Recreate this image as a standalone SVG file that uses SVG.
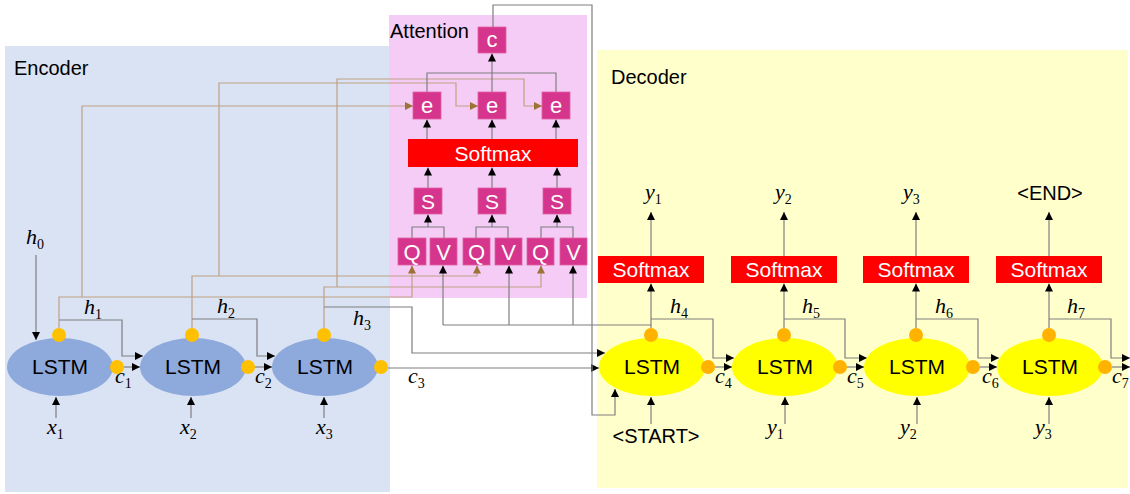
<svg xmlns="http://www.w3.org/2000/svg" width="1130" height="494" viewBox="0 0 1130 494">
<style>
.t{font-family:"Liberation Sans",Arial,sans-serif;fill:#000}
.w{font-family:"Liberation Sans",Arial,sans-serif;fill:#fff;text-anchor:middle}
.m{font-family:"Liberation Serif","Times New Roman",serif;font-style:italic;font-size:22px;fill:#000}
.s{font-style:normal;font-size:14px}
.g{fill:none;stroke:#7F7F7F;stroke-width:1.2}
.b{fill:none;stroke:#BEA183;stroke-width:1.2}
.ga{fill:none;stroke:#7F7F7F;stroke-width:1.2;marker-end:url(#ab)}
.ba{fill:none;stroke:#BEA183;stroke-width:1.2;marker-end:url(#ar)}
.box{fill:#D5358C;stroke:#E060A0;stroke-width:0.8}
.red{fill:#FF0000}
.el{fill:#8EA9DB}
.dl{fill:#FFFF00}
.oc{fill:#FFC000}
.od{fill:#FFB300}
</style>
<defs>
<marker id="ab" viewBox="0 0 10 10" refX="10" refY="5" markerWidth="8" markerHeight="8" markerUnits="userSpaceOnUse" orient="auto"><path d="M0,0 L10,5 L0,10 z" fill="#000"/></marker>
<marker id="ar" viewBox="0 0 10 10" refX="10" refY="5" markerWidth="8" markerHeight="8" markerUnits="userSpaceOnUse" orient="auto"><path d="M0,0 L10,5 L0,10 z" fill="#9E7138"/></marker>
</defs>

<g id="backgrounds">
<rect x="5" y="46" width="385" height="446" fill="#DAE3F3"/>
<rect x="389" y="15" width="198" height="283" fill="#F4CCF5"/>
<rect x="597" y="50" width="531" height="438" fill="#FFFFCC"/>
<text class="t" x="14" y="75" font-size="20">Encoder</text>
<text class="t" x="390" y="38" font-size="20">Attention</text>
<text class="t" x="611" y="84" font-size="20">Decoder</text>
</g>

<g id="connectors">
<path class="ba" d="M59,328 V297 H412 V265.5"/>
<path class="ba" d="M82,297 V106 H413"/>
<path class="ba" d="M192,328 V276 H477 V265.5"/>
<path class="ba" d="M219,276 V83 H456 V106 H478"/>
<path class="ba" d="M324,328 V287 H541 V265.5"/>
<path class="ba" d="M337,287 V79 H524 V106 H542"/>
<path class="ga" d="M36,255 V340"/>
<path class="ga" d="M59,320 H122 V356 H143"/>
<path class="ga" d="M124,367 H140"/>
<path class="ga" d="M192,319 H257 V356 H275"/>
<path class="ga" d="M255,367 H272"/>
<path class="ga" d="M324,307 H412 V353 H605"/>
<path class="ga" d="M388,368 H599"/>
<path class="ga" d="M56,418 V397"/>
<path class="ga" d="M191,418 V397"/>
<path class="ga" d="M324,418 V397"/>
<path class="g" d="M427,92 V73 H556 V92"/>
<path class="ga" d="M492,92 V53.5"/>
<path class="ga" d="M427,139 V119.5"/>
<path class="ga" d="M492,139 V119.5"/>
<path class="ga" d="M556,139 V119.5"/>
<path class="ga" d="M428,188 V167.5"/>
<path class="ga" d="M492,188 V167.5"/>
<path class="ga" d="M557,188 V167.5"/>
<path class="g" d="M412,238 V227 H444 V238"/>
<path class="ga" d="M428,227 V214.5"/>
<path class="g" d="M476,238 V227 H508 V238"/>
<path class="ga" d="M492,227 V214.5"/>
<path class="g" d="M541,238 V227 H573 V238"/>
<path class="ga" d="M557,227 V214.5"/>
<path class="ga" d="M443,325 V265.5"/>
<path class="ga" d="M509,325 V265.5"/>
<path class="ga" d="M573,325 V265.5"/>
<path class="g" d="M443,325 H651"/>
<path class="ga" d="M493,27 V5 H592 V415 H615 V389"/>
<path class="ga" d="M651,328 V283.5"/>
<path class="ga" d="M651,256 V212"/>
<path class="ga" d="M651,319 H713 V358 H734"/>
<path class="ga" d="M715,367 H732"/>
<path class="ga" d="M784,328 V283.5"/>
<path class="ga" d="M784,256 V212"/>
<path class="ga" d="M784,319 H845 V358 H867"/>
<path class="ga" d="M847,367 H864"/>
<path class="ga" d="M916,328 V283.5"/>
<path class="ga" d="M916,256 V212"/>
<path class="ga" d="M916,319 H978 V358 H999"/>
<path class="ga" d="M980,367 H997"/>
<path class="ga" d="M1049,328 V283.5"/>
<path class="ga" d="M1049,256 V212"/>
<path class="ga" d="M1049,319 H1111 V358 H1130"/>
<path class="ga" d="M1112,367 H1130"/>
<path class="ga" d="M651,424 V397"/>
<path class="ga" d="M785,424 V397"/>
<path class="ga" d="M917,424 V397"/>
<path class="ga" d="M1049,424 V397"/>
</g>

<g id="enc1"><ellipse class="el" cx="60" cy="367" rx="53" ry="29"/><text class="t" x="60" y="374" font-size="21" text-anchor="middle">LSTM</text><circle class="oc" cx="59" cy="335" r="7"/><circle class="oc" cx="117" cy="367" r="7"/></g>
<g id="enc2"><ellipse class="el" cx="193" cy="367" rx="53" ry="29"/><text class="t" x="193" y="374" font-size="21" text-anchor="middle">LSTM</text><circle class="oc" cx="192" cy="335" r="7"/><circle class="oc" cx="248" cy="367" r="7"/></g>
<g id="enc3"><ellipse class="el" cx="325" cy="367" rx="53" ry="29"/><text class="t" x="325" y="374" font-size="21" text-anchor="middle">LSTM</text><circle class="oc" cx="324" cy="335" r="7"/><circle class="oc" cx="381" cy="367" r="7"/></g>

<g id="dec1"><ellipse class="dl" cx="652" cy="367" rx="53" ry="29"/><text class="t" x="652" y="374" font-size="21" text-anchor="middle">LSTM</text><circle class="od" cx="651" cy="335" r="7"/><circle class="od" cx="708" cy="367" r="7"/></g>
<g id="dec2"><ellipse class="dl" cx="785" cy="367" rx="53" ry="29"/><text class="t" x="785" y="374" font-size="21" text-anchor="middle">LSTM</text><circle class="od" cx="784" cy="335" r="7"/><circle class="od" cx="840" cy="367" r="7"/></g>
<g id="dec3"><ellipse class="dl" cx="917" cy="367" rx="53" ry="29"/><text class="t" x="917" y="374" font-size="21" text-anchor="middle">LSTM</text><circle class="od" cx="916" cy="335" r="7"/><circle class="od" cx="973" cy="367" r="7"/></g>
<g id="dec4"><ellipse class="dl" cx="1050" cy="367" rx="53" ry="29"/><text class="t" x="1050" y="374" font-size="21" text-anchor="middle">LSTM</text><circle class="od" cx="1049" cy="335" r="7"/><circle class="od" cx="1105" cy="367" r="7"/></g>

<g id="dsm1"><rect class="red" x="598" y="256" width="106" height="27"/><text class="w" x="651" y="277" font-size="21">Softmax</text></g>
<g id="dsm2"><rect class="red" x="731" y="256" width="106" height="27"/><text class="w" x="784" y="277" font-size="21">Softmax</text></g>
<g id="dsm3"><rect class="red" x="863" y="256" width="106" height="27"/><text class="w" x="916" y="277" font-size="21">Softmax</text></g>
<g id="dsm4"><rect class="red" x="996" y="256" width="106" height="27"/><text class="w" x="1049" y="277" font-size="21">Softmax</text></g>

<g id="att-c"><rect class="box" x="478" y="27" width="28" height="26"/><text class="w" x="492" y="47" font-size="22">c</text></g>
<g id="att-e1"><rect class="box" x="413" y="92" width="28" height="27"/><text class="w" x="427" y="113" font-size="22">e</text></g>
<g id="att-e2"><rect class="box" x="478" y="92" width="28" height="27"/><text class="w" x="492" y="113" font-size="22">e</text></g>
<g id="att-e3"><rect class="box" x="542" y="92" width="28" height="27"/><text class="w" x="556" y="113" font-size="22">e</text></g>
<g id="att-softmax"><rect class="red" x="408" y="139" width="170" height="28"/><text class="w" x="493" y="161" font-size="21">Softmax</text></g>
<g id="att-s1"><rect class="box" x="414" y="188" width="28" height="26"/><text class="w" x="428" y="209" font-size="21">S</text></g>
<g id="att-s2"><rect class="box" x="478" y="188" width="28" height="26"/><text class="w" x="492" y="209" font-size="21">S</text></g>
<g id="att-s3"><rect class="box" x="543" y="188" width="28" height="26"/><text class="w" x="557" y="209" font-size="21">S</text></g>
<g id="att-q1"><rect class="box" x="398" y="238" width="28" height="27"/><text class="w" x="412" y="259.5" font-size="22">Q</text></g>
<g id="att-v1"><rect class="box" x="430" y="238" width="27" height="27"/><text class="w" x="443.5" y="259.5" font-size="22">V</text></g>
<g id="att-q2"><rect class="box" x="463" y="238" width="27" height="27"/><text class="w" x="476.5" y="259.5" font-size="22">Q</text></g>
<g id="att-v2"><rect class="box" x="495" y="238" width="27" height="27"/><text class="w" x="508.5" y="259.5" font-size="22">V</text></g>
<g id="att-q3"><rect class="box" x="527" y="238" width="27" height="27"/><text class="w" x="540.5" y="259.5" font-size="22">Q</text></g>
<g id="att-v3"><rect class="box" x="560" y="238" width="27" height="27"/><text class="w" x="573.5" y="259.5" font-size="22">V</text></g>

<g id="labels">
<text class="m" x="26" y="244">h<tspan class="s" dy="5">0</tspan></text>
<text class="m" x="84" y="314">h<tspan class="s" dy="5">1</tspan></text>
<text class="m" x="217" y="313">h<tspan class="s" dy="5">2</tspan></text>
<text class="m" x="353" y="325">h<tspan class="s" dy="5">3</tspan></text>
<text class="m" x="670" y="313">h<tspan class="s" dy="5">4</tspan></text>
<text class="m" x="802" y="313">h<tspan class="s" dy="5">5</tspan></text>
<text class="m" x="935" y="313">h<tspan class="s" dy="5">6</tspan></text>
<text class="m" x="1067" y="313">h<tspan class="s" dy="5">7</tspan></text>
<text class="m" x="115" y="383">c<tspan class="s" dy="5">1</tspan></text>
<text class="m" x="255" y="383">c<tspan class="s" dy="5">2</tspan></text>
<text class="m" x="408" y="383">c<tspan class="s" dy="5">3</tspan></text>
<text class="m" x="715" y="383">c<tspan class="s" dy="5">4</tspan></text>
<text class="m" x="847" y="383">c<tspan class="s" dy="5">5</tspan></text>
<text class="m" x="982" y="383">c<tspan class="s" dy="5">6</tspan></text>
<text class="m" x="1112" y="383">c<tspan class="s" dy="5">7</tspan></text>
<text class="m" x="47" y="434">x<tspan class="s" dy="5">1</tspan></text>
<text class="m" x="180" y="434">x<tspan class="s" dy="5">2</tspan></text>
<text class="m" x="316" y="434">x<tspan class="s" dy="5">3</tspan></text>
<text class="m" x="645" y="199">y<tspan class="s" dy="5">1</tspan></text>
<text class="m" x="775" y="199">y<tspan class="s" dy="5">2</tspan></text>
<text class="m" x="903" y="199">y<tspan class="s" dy="5">3</tspan></text>
<text class="t" x="1050" y="200" font-size="20" text-anchor="middle">&lt;END&gt;</text>
<text class="t" x="656" y="443" font-size="20" text-anchor="middle">&lt;START&gt;</text>
<text class="m" x="767" y="434">y<tspan class="s" dy="5">1</tspan></text>
<text class="m" x="900" y="434">y<tspan class="s" dy="5">2</tspan></text>
<text class="m" x="1035" y="434">y<tspan class="s" dy="5">3</tspan></text>
</g>
</svg>
